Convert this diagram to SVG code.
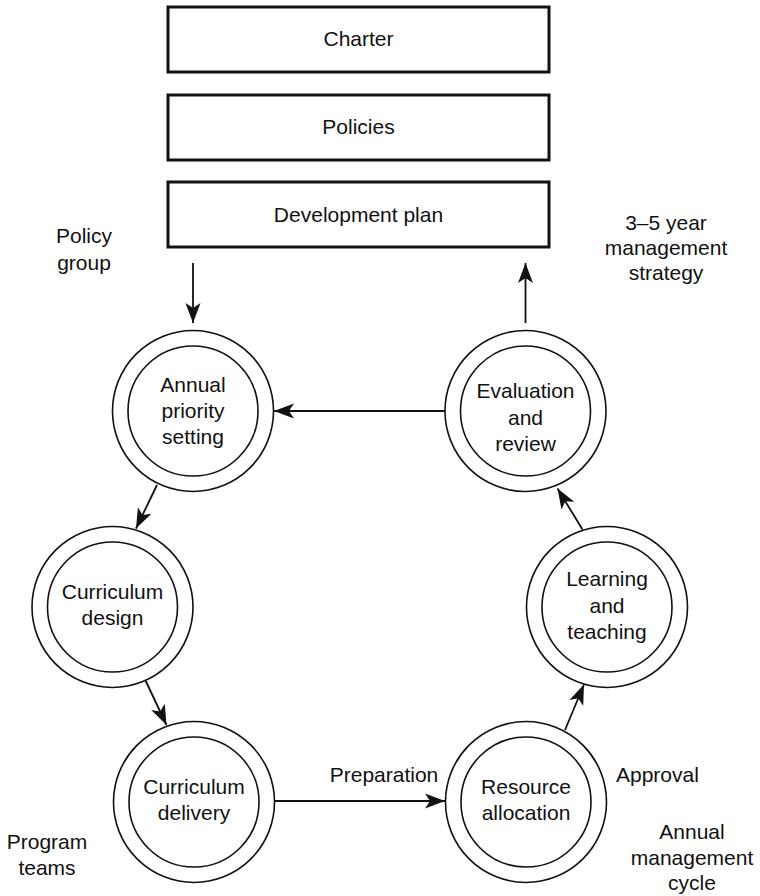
<svg xmlns="http://www.w3.org/2000/svg" width="760" height="896" viewBox="0 0 760 896">
  <style>
    text { font-family: "Liberation Sans", Arial, sans-serif; font-size: 21px; fill: #111; text-anchor: middle; }
    .box { fill: #fff; stroke: #111; stroke-width: 3; }
    .ring { fill: #fff; stroke: #111; stroke-width: 1.6; }
    .conn { fill: none; stroke: #111; stroke-width: 1.8; }
    .left { text-anchor: start; }
  </style>
  <defs>
    <marker id="arrow" markerUnits="userSpaceOnUse" markerWidth="22" markerHeight="16" viewBox="0 -8 22 16" refX="20" refY="0" orient="auto">
      <path d="M0,-7.5 L20,0 L0,7.5 L5,0 Z" fill="#111"/>
    </marker>
  </defs>

  <!-- strategic documents -->
  <g id="charter">
    <rect class="box" x="168" y="7" width="381" height="65"/>
    <text x="358.5" y="46">Charter</text>
  </g>
  <g id="policies">
    <rect class="box" x="168" y="95" width="381" height="65"/>
    <text x="358.5" y="134">Policies</text>
  </g>
  <g id="development-plan">
    <rect class="box" x="168" y="182" width="381" height="65"/>
    <text x="358.5" y="222">Development plan</text>
  </g>

  <!-- annual cycle stages -->
  <g id="annual-priority-setting">
    <circle class="ring" cx="193" cy="411" r="80.5"/>
    <circle class="ring" cx="193" cy="411" r="65"/>
    <text x="193" y="392">Annual</text>
    <text x="193" y="418">priority</text>
    <text x="193" y="444">setting</text>
  </g>
  <g id="evaluation-and-review">
    <circle class="ring" cx="525.5" cy="411" r="80.5"/>
    <circle class="ring" cx="525.5" cy="411" r="65"/>
    <text x="525.5" y="398">Evaluation</text>
    <text x="525.5" y="424.5">and</text>
    <text x="525.5" y="451">review</text>
  </g>
  <g id="curriculum-design">
    <circle class="ring" cx="112.5" cy="607" r="80.5"/>
    <circle class="ring" cx="112.5" cy="607" r="65"/>
    <text x="112.5" y="598.5">Curriculum</text>
    <text x="112.5" y="625">design</text>
  </g>
  <g id="learning-and-teaching">
    <circle class="ring" cx="607" cy="607" r="80.5"/>
    <circle class="ring" cx="607" cy="607" r="65"/>
    <text x="607" y="586">Learning</text>
    <text x="607" y="612.5">and</text>
    <text x="607" y="639">teaching</text>
  </g>
  <g id="curriculum-delivery">
    <circle class="ring" cx="194" cy="802" r="80.5"/>
    <circle class="ring" cx="194" cy="802" r="65"/>
    <text x="194" y="793.5">Curriculum</text>
    <text x="194" y="820">delivery</text>
  </g>
  <g id="resource-allocation">
    <circle class="ring" cx="526" cy="802" r="80.5"/>
    <circle class="ring" cx="526" cy="802" r="65"/>
    <text x="526" y="794">Resource</text>
    <text x="526" y="820">allocation</text>
  </g>

  <!-- connectors -->
  <g id="connectors">
    <line class="conn" x1="193" y1="263" x2="193" y2="323" marker-end="url(#arrow)"/>
    <line class="conn" x1="525.5" y1="323" x2="525.5" y2="263" marker-end="url(#arrow)"/>
    <line class="conn" x1="445" y1="411" x2="274" y2="411" marker-end="url(#arrow)"/>
    <line class="conn" x1="157" y1="485" x2="136" y2="528.5" marker-end="url(#arrow)"/>
    <line class="conn" x1="145.5" y1="680.5" x2="166.5" y2="725" marker-end="url(#arrow)"/>
    <line class="conn" x1="275" y1="801" x2="445" y2="801" marker-end="url(#arrow)"/>
    <line class="conn" x1="565" y1="730" x2="584" y2="684.5" marker-end="url(#arrow)"/>
    <line class="conn" x1="582.5" y1="529.5" x2="557.5" y2="488.5" marker-end="url(#arrow)"/>
  </g>

  <!-- annotations -->
  <g id="labels">
    <text x="84" y="243">Policy</text>
    <text x="84" y="270">group</text>
    <text x="666" y="229.5">3–5 year</text>
    <text x="666" y="255">management</text>
    <text x="666" y="280">strategy</text>
    <text x="384" y="782">Preparation</text>
    <text class="left" x="616" y="782">Approval</text>
    <text x="692" y="838.5">Annual</text>
    <text x="692" y="865">management</text>
    <text x="692" y="890">cycle</text>
    <text x="47" y="848.5">Program</text>
    <text x="47" y="875">teams</text>
  </g>
</svg>
